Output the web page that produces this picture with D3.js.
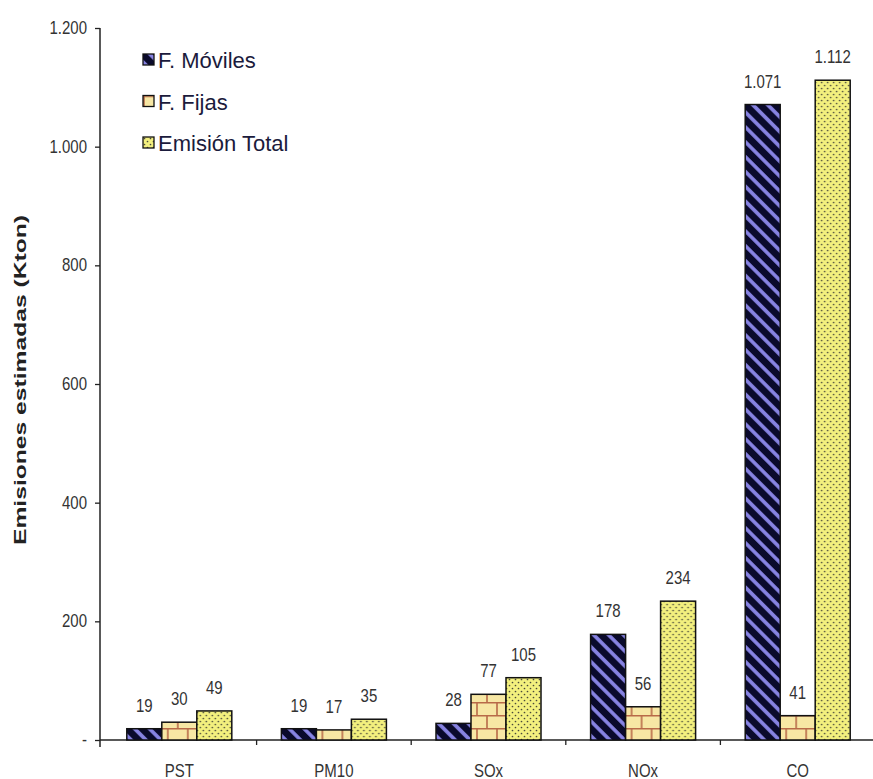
<!DOCTYPE html>
<html>
<head>
<meta charset="utf-8">
<script src="https://cdn.jsdelivr.net/npm/d3@7"></script>
<style>
body { margin: 0; background: #fff; }
svg { display: block; font-family: "Liberation Sans", Arial, sans-serif; }
</style>
</head>
<body>
<div id="chart"></div>
<script>
var categories = ["PST", "PM10", "SOx", "NOx", "CO"]
var seriesNames = ["F. Móviles", "F. Fijas", "Emisión Total"]
var moviles = [19, 19, 28, 178, 1071]
var fijas = [30, 17, 77, 56, 41]
var total = [49, 35, 105, 234, 1112]
var yTicks = [0, 200, 400, 600, 800, 1000, 1200]

var width = 873, height = 779
var sy = 1.18   // the picture is a bit stretched vertically, so text is too
var svg = d3.select("#chart").append("svg")
    .attr("width", width)
    .attr("height", height)

var defs = svg.append("defs")

// diagonal stripes for F. Moviles
var p1 = defs.append("pattern").attr("id", "pMov")
    .attr("patternUnits", "userSpaceOnUse")
    .attr("width", 10.5).attr("height", 10.5)
    .attr("patternTransform", "rotate(-45)")
p1.append("rect").attr("width", 10.5).attr("height", 10.5).attr("fill", "#0a0a2c")
p1.append("rect").attr("x", 3).attr("width", 3.6).attr("height", 10.5).attr("fill", "#8884e4")

// bricks for F. Fijas
var p2 = defs.append("pattern").attr("id", "pFij")
    .attr("patternUnits", "userSpaceOnUse")
    .attr("width", 20).attr("height", 26)
p2.append("rect").attr("width", 20).attr("height", 26).attr("fill", "#f7e7a4")
p2.append("path")
    .attr("d", "M0,0.75H20 M0,13.75H20 M1,0V13 M11,13V26")
    .attr("stroke", "#b86a48").attr("stroke-width", 1.6).attr("fill", "none")

// dots for Emision Total
var p3 = defs.append("pattern").attr("id", "pTot")
    .attr("patternUnits", "userSpaceOnUse")
    .attr("width", 6).attr("height", 6)
p3.append("rect").attr("width", 6).attr("height", 6).attr("fill", "#f3f07e")
p3.append("circle").attr("cx", 1.5).attr("cy", 1.5).attr("r", 0.85).attr("fill", "#4a4a3a")
p3.append("circle").attr("cx", 4.5).attr("cy", 4.5).attr("r", 0.85).attr("fill", "#4a4a3a")

var fills = ["url(#pMov)", "url(#pFij)", "url(#pTot)"]
var series = [moviles, fijas, total]

var x0 = d3.scaleBand().domain(categories).range([102, 875])
var x1 = d3.scaleBand().domain(seriesNames).range([0, 105])
var y = d3.scaleLinear().domain([0, 1200]).range([740, 28])

var fmt = function(d) {
    if (d === 0) return "-"
    return d3.format(",")(d).replace(/,/g, ".")
}

// text placed at (x, y) baseline, stretched vertically
function label(parent, x, yy, txt, size, anchor) {
    return parent.append("text")
        .attr("transform", "translate(" + x + "," + yy + ") scale(1," + sy + ")")
        .attr("text-anchor", anchor || "middle")
        .attr("font-size", size)
        .attr("fill", "#333")
        .text(txt)
}

// axes
var yAxis = svg.append("g")
    .attr("transform", "translate(100,0)")
    .call(d3.axisLeft(y).tickValues(yTicks).tickFormat(fmt).tickSize(5).tickPadding(8))
yAxis.select(".domain").attr("stroke", "#222").attr("stroke-width", 1.5).attr("d", "M0,28V747")
yAxis.selectAll(".tick line").attr("stroke", "#222").attr("stroke-width", 1.3)
yAxis.selectAll("text")
    .attr("font-size", 15).attr("fill", "#333")
    .attr("transform", "scale(1," + sy + ")")

var xAxis = svg.append("g")
    .attr("transform", "translate(0,740)")
    .call(d3.axisBottom(x0).tickSize(0).tickFormat(""))
xAxis.select(".domain").attr("stroke", "#222").attr("stroke-width", 1.5).attr("d", "M100,0H873")
xAxis.selectAll(".sep").data(categories.slice(1))
    .enter().append("line")
    .attr("x1", function(d) { return x0(d) }).attr("x2", function(d) { return x0(d) })
    .attr("y1", 0).attr("y2", 5)
    .attr("stroke", "#222").attr("stroke-width", 1.3)
categories.forEach(function(c) {
    label(svg, x0(c) + x0.bandwidth() / 2, 777, c, 15)
})

// bars
var groups = svg.selectAll(".grp").data(categories)
    .enter().append("g")
    .attr("transform", function(d) { return "translate(" + (x0(d) + x0.bandwidth() / 2 - 52.5) + ",0)" })

groups.each(function(c, ci) {
    var g = d3.select(this)
    seriesNames.forEach(function(s, si) {
        var v = series[si][ci]
        g.append("rect")
            .attr("x", x1(s))
            .attr("y", y(v))
            .attr("width", x1.bandwidth())
            .attr("height", y(0) - y(v))
            .attr("fill", fills[si])
            .attr("stroke", "#111")
            .attr("stroke-width", 1.5)
        label(g, x1(s) + x1.bandwidth() / 2, y(v) - 17, fmt(v), 15)
    })
})

// y title
svg.append("text")
    .attr("transform", "translate(26,380) rotate(-90)")
    .attr("text-anchor", "middle")
    .attr("font-size", 17)
    .attr("font-weight", "bold")
    .attr("fill", "#222")
    .attr("textLength", 330)
    .attr("lengthAdjust", "spacingAndGlyphs")
    .text("Emisiones estimadas (Kton)")

// legend
var legend = svg.selectAll(".leg").data(seriesNames)
    .enter().append("g")
    .attr("transform", function(d, i) { return "translate(143," + (54 + i * 41.5) + ")" })
legend.append("rect")
    .attr("width", 11).attr("height", 11)
    .attr("fill", function(d, i) { return fills[i] })
    .attr("stroke", "#111").attr("stroke-width", 1.3)
legend.append("text")
    .attr("x", 15).attr("y", 14)
    .attr("font-size", 22)
    .attr("fill", "#1b1b3c")
    .text(function(d) { return d })
</script>
</body>
</html>
